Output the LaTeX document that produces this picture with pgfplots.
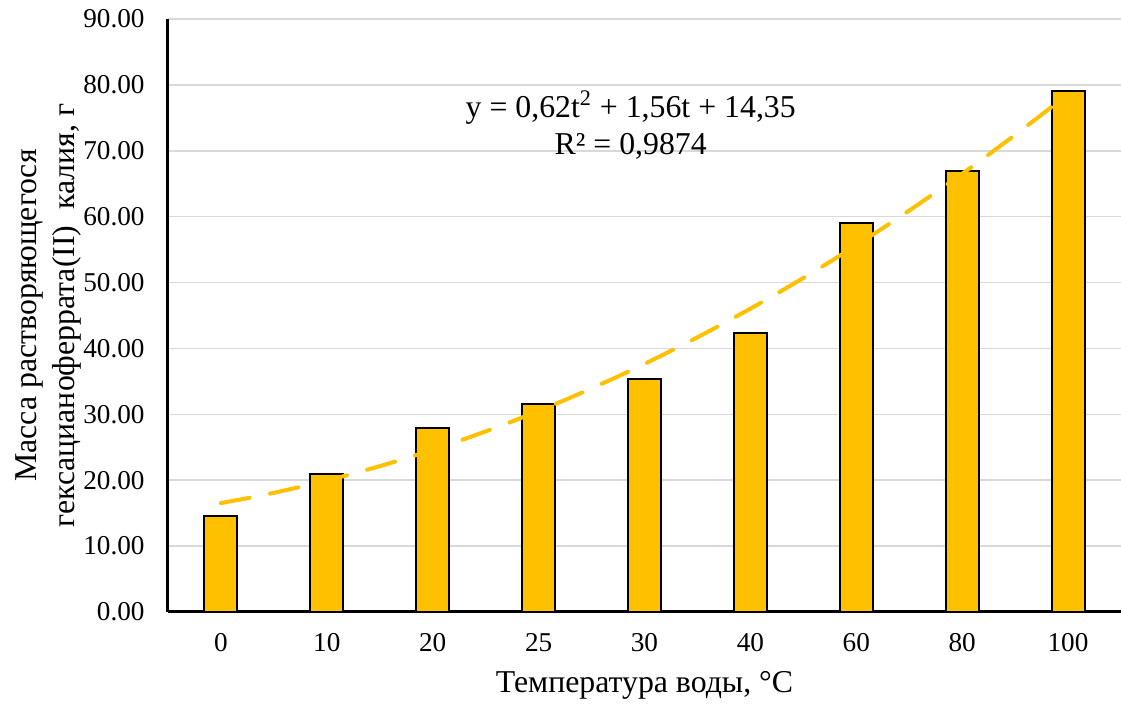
\documentclass[border=0pt]{standalone}
\usepackage{pgfplots}
\pgfplotsset{compat=1.18}
\usepackage{fontspec}
\setmainfont{Liberation Serif}
\definecolor{gold}{HTML}{FFC000}
\definecolor{gridgray}{HTML}{D9D9D9}
\begin{document}
\begin{tikzpicture}
\useasboundingbox (-84pt,-46pt) rectangle (476.5pt,306pt);
\begin{axis}[
  scale only axis, width=476.5pt, height=296.5pt,
  at={(0,0)}, anchor=south west,
  xmin=-0.5, xmax=8.5, ymin=0, ymax=90,
  ytick={0,10,...,90},
  xtick={0,...,8}, xticklabels={0,10,20,25,30,40,60,80,100},
  axis x line=bottom, axis y line=left,
  axis line style={line width=1.5pt, -},
  major tick length=0pt,
  ymajorgrids, grid style={gridgray, line width=0.75pt},
  /pgf/number format/assume math mode=true,
  yticklabel style={/pgf/number format/.cd, fixed, fixed zerofill, precision=2, /tikz/.cd,
    anchor=east, inner sep=0pt, xshift=-11.5pt, font=\fontsize{13.6}{15}\selectfont},
  xticklabel style={anchor=base, yshift=-20pt, font=\fontsize{13.6}{15}\selectfont},
  xlabel={Температура воды, °C},
  xlabel style={at={(axis description cs:0.5,0)}, anchor=base, yshift=-40.5pt, font=\fontsize{15.9}{19}\selectfont},
  ylabel={Масса растворяющегося\\гексацианоферрата(II)\ \ калия, г},
  ylabel style={at={(axis description cs:-0.125,0.5)}, anchor=center, align=center, font=\fontsize{15.9}{19}\selectfont},
]
\addplot[ybar, bar width=16.5pt, fill=gold, draw=black, line width=1pt] coordinates {
  (0,14.5) (1,21.0) (2,28.0) (3,31.5) (4,35.3) (5,42.3) (6,59.0) (7,67.0) (8,79.0)
};
\addplot[gold, line width=2pt, line cap=round, dash pattern=on 14.5pt off 10.5pt] coordinates {
  (0,16.53) (0.25,17.27) (0.5,18.085) (0.75,18.979) (1,19.95) (1.25,20.999) (1.5,22.125) (1.75,23.329)
  (2,24.61) (2.25,25.969) (2.5,27.405) (2.75,28.919) (3,30.51) (3.25,32.179) (3.5,33.925) (3.75,35.749)
  (4,37.65) (4.25,39.629) (4.5,41.685) (4.75,43.819) (5,46.03) (5.25,48.319) (5.5,50.685) (5.75,53.129)
  (6,55.65) (6.25,58.249) (6.5,60.925) (6.75,63.679) (7,66.51) (7.25,69.419) (7.5,72.405) (7.75,75.469)
  (8,78.61)
};
\node[anchor=base, font=\fontsize{15.9}{19}\selectfont] at (axis cs:3.87,75.0) {y = 0,62t\textsuperscript{2} + 1,56t + 14,35};
\node[anchor=base, font=\fontsize{15.9}{19}\selectfont] at (axis cs:3.87,69.36) {R² = 0,9874};
\end{axis}
\end{tikzpicture}
\end{document}
